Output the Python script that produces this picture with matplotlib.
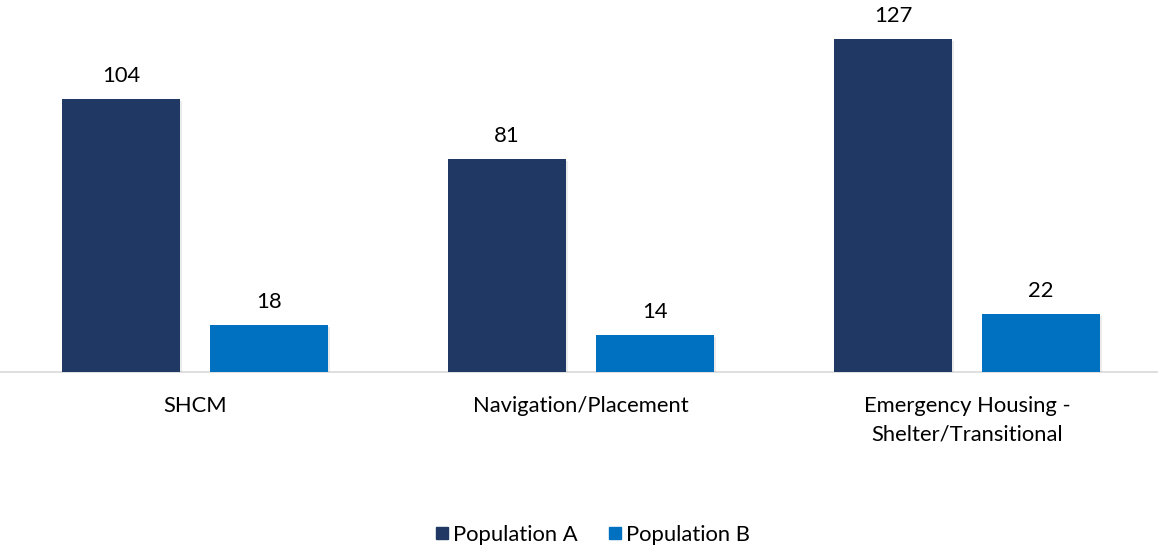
import numpy as np
import matplotlib.pyplot as plt
import matplotlib.patheffects as pe
from matplotlib.lines import Line2D

categories = ['SHCM', 'Navigation/Placement', 'Emergency Housing -\nShelter/Transitional']
pop_a = [104, 81, 127]
pop_b = [18, 14, 22]
series_names = ['Population A', 'Population B']
colors = ['#203864', '#0070C0']

plt.rcParams['font.family'] = ['Lato', 'DejaVu Sans']
fs = 15.8

fig = plt.figure(figsize=(11.58, 5.48), dpi=100)
ax = fig.add_axes([0, 176 / 548, 1, 372 / 548])

x = np.arange(len(categories))
width = 0.306
offset = 0.191
shadow = [pe.SimplePatchShadow(offset=(1.5, -1.5), alpha=0.15, shadow_rgbFace='#7f7f7f'), pe.Normal()]

for vals, off, col in zip([pop_a, pop_b], [-offset, offset], colors):
    bars = ax.bar(x + off, vals, width, color=col, zorder=3)
    for b in bars:
        b.set_path_effects(shadow)
    for xi, v in zip(x + off, vals):
        ax.annotate(str(v), (xi, v), xytext=(0, 12.3), textcoords='offset points',
                    ha='center', va='baseline', fontsize=fs, color='#000000')

ax.set_xlim(-0.505, 2.495)
ax.set_ylim(0, 141.7)
for s in ['top', 'right', 'left']:
    ax.spines[s].set_visible(False)
ax.spines['bottom'].set_color('#D9D9D9')
ax.spines['bottom'].set_linewidth(1.2)
ax.set_yticks([])
ax.set_xticks(x)
ax.set_xticklabels(categories, fontsize=fs, linespacing=1.55, va='top')
ax.tick_params(axis='x', length=0, pad=17)
ax.patch.set_alpha(0)

handles = [Line2D([], [], marker='s', linestyle='none', markersize=9, color=c) for c in colors]
fig.legend(handles, series_names, loc='center', bbox_to_anchor=(0.51, 13 / 548),
           ncol=2, frameon=False, fontsize=fs, handletextpad=0.0, columnspacing=1.2,
           handlelength=1.0)

fig.savefig('out.png', dpi=100)
